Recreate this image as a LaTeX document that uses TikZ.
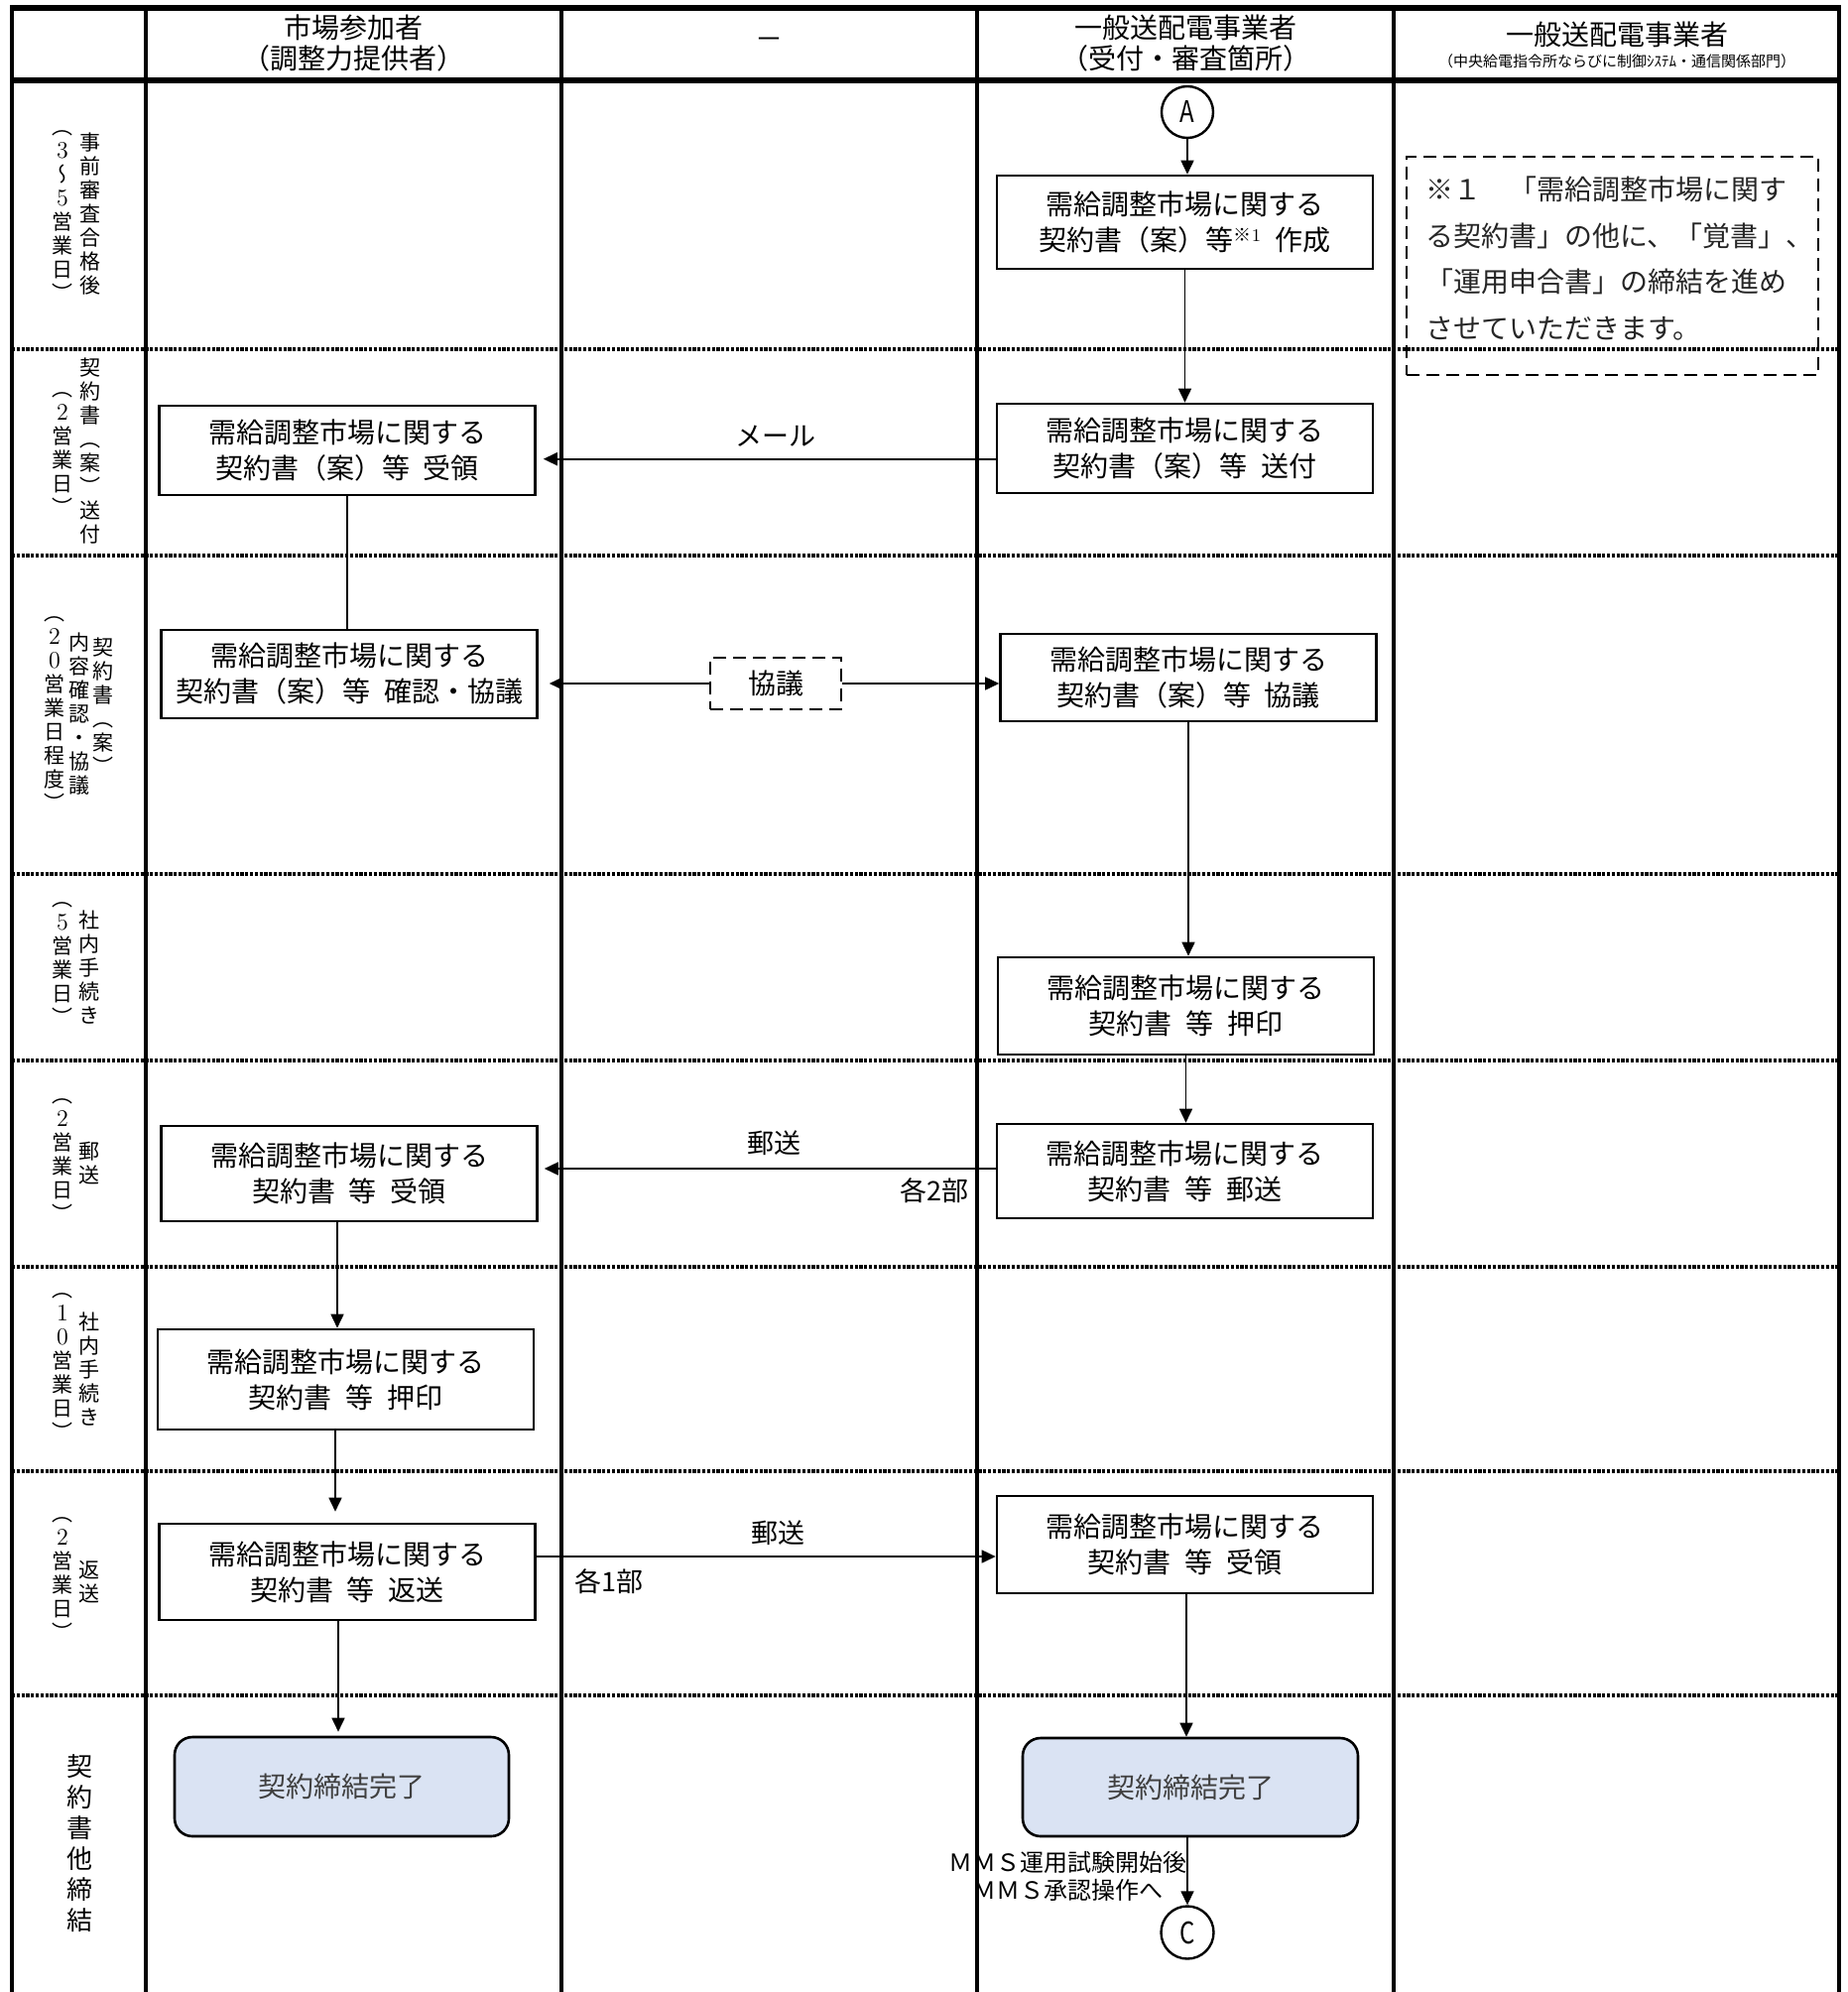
\documentclass[tikz,border=0pt]{standalone}
\usepackage{fontspec}
\usepackage{graphicx}
\usetikzlibrary{arrows.meta}
\newfontfamily\jp{Noto Sans CJK JP}
\newfontfamily\jpv[RawFeature=+vert]{Noto Sans CJK JP}
\definecolor{doneblue}{HTML}{DAE3F3}
\definecolor{donetext}{HTML}{404040}
\newcommand\vdig[1]{{\rmfamily\fontsize{12pt}{12pt}\selectfont #1}}
\begin{document}
\begin{tikzpicture}[x=0.5pt,y=-0.5pt,
  colline/.style={line width=2pt},
  hdrline/.style={line width=2.6pt},
  rowsep/.style={line width=1.7pt, dash pattern=on 1.6pt off 0.8pt},
  proc/.style={draw, line width=1.3pt, fill=white, minimum width=189.5pt, align=center, inner sep=0pt, font=\jp\fontsize{14pt}{18pt}\selectfont},
  done/.style={draw, line width=1.3pt, fill=doneblue, rounded corners=9pt, minimum width=169pt, minimum height=50pt, inner sep=0pt, font=\jp\fontsize{14pt}{18pt}\selectfont, text=donetext},
  conn/.style={draw, circle, line width=1.2pt, minimum size=26pt, inner sep=0pt, font=\jp\fontsize{15pt}{15pt}\selectfont},
  arr/.style={line width=0.8pt, -{Triangle[length=7pt,width=6.5pt]}},
  plain/.style={line width=0.8pt},
  lab/.style={font=\jp\fontsize{13.5pt}{16pt}\selectfont, inner sep=0pt},
  vlab/.style={font=\jpv\fontsize{10.5pt}{12pt}\selectfont, align=center, inner sep=0pt},
  vbig/.style={font=\jpv\fontsize{13pt}{15.5pt}\selectfont, align=center, inner sep=0pt},
  hd/.style={font=\jp\fontsize{14pt}{15.5pt}\selectfont, align=center, inner sep=0pt},
  dashbox/.style={draw, line width=1.3pt, dash pattern=on 6.5pt off 3.5pt},
]
\useasboundingbox (0,0) rectangle (1863,2008);
\fill[white] (0,0) rectangle (1863,2008);

% row separators
\foreach \yy in {352,560,881,1069,1277,1483,1709}
  \draw[rowsep] (12,\yy) -- (1854,\yy);

% grid
\foreach \xx in {12,147,566,985,1405,1854}
  \draw[colline] (\xx,6) -- (\xx,2008);
\draw[hdrline] (10,8) -- (1856,8);
\draw[hdrline] (10,81) -- (1856,81);

% headers
\node[hd] (h2) at (356.5,43.5) {市場参加者\\（調整力提供者）};
\node[hd] (h3) at (775.5,44) {－};
\node[hd] (h4) at (1195,43.5) {一般送配電事業者\\（受付・審査箇所）};
\node[hd] (h5) at (1630,35) {一般送配電事業者};
\node[font=\jp\fontsize{7.5pt}{8pt}\selectfont, inner sep=0pt] (h5s) at (1630,62) {（中央給電指令所ならびに制御ｼｽﾃﾑ・通信関係部門）};

% row labels (vertical)
\node[vlab] (r1a) at (91,216) {事\\前\\審\\査\\合\\格\\後};
\node[vlab] (r1b) at (63,218) {（\\\vdig{3}\\〜\\\vdig{5}\\営\\業\\日\\）};
\node[vlab] (r2a) at (91,455) {契\\約\\書\\（\\案\\）\\送\\付};
\node[vlab] (r2b) at (63,458) {（\\\vdig{2}\\営\\業\\日\\）};
\node[vlab] (r3a) at (104,712) {契\\約\\書\\（\\案\\）};
\node[vlab] (r3b) at (80,720) {内\\容\\確\\認\\・\\協\\議};
\node[vlab] (r3c) at (55,720) {（\\\vdig{2}\\\vdig{0}\\営\\業\\日\\程\\度\\）};
\node[vlab] (r4a) at (90,975) {社\\内\\手\\続\\き};
\node[vlab] (r4b) at (63,972) {（\\\vdig{5}\\営\\業\\日\\）};
\node[vlab] (r5a) at (90,1173) {郵\\送};
\node[vlab] (r5b) at (63,1170) {（\\\vdig{2}\\営\\業\\日\\）};
\node[vlab] (r6a) at (90,1380) {社\\内\\手\\続\\き};
\node[vlab] (r6b) at (63,1378) {（\\\vdig{1}\\\vdig{0}\\営\\業\\日\\）};
\node[vlab] (r7a) at (90,1595) {返\\送};
\node[vlab] (r7b) at (63,1592) {（\\\vdig{2}\\営\\業\\日\\）};
\node[vbig] (r8a) at (80,1858) {契\\約\\書\\他\\締\\結};

% note
\node[dashbox, minimum width=207.5pt, minimum height=110pt, inner sep=0pt] (notebox) at (1625.5,268) {};
\node[font=\jp\fontsize{14pt}{23.25pt}\selectfont, align=left, inner sep=0pt, anchor=west, text=black!85] (note) at (1437,260.5)
  {※１　「需給調整市場に関す\\る契約書」の他に、「覚書」、\\「運用申合書」の締結を進め\\させていただきます。};

% process nodes
\node[conn] (A) at (1197,113) {\scalebox{0.8}[1]{A}};
\node[proc, minimum height=47pt] (R1) at (1194.5,224) {需給調整市場に関する\\契約書（案）等\raisebox{4.5pt}{\fontsize{9pt}{9pt}\selectfont ※{\rmfamily 1}}\enspace 作成};
\node[proc, minimum height=45pt] (R2) at (1194.5,452) {需給調整市場に関する\\契約書（案）等\enspace 送付};
\node[proc, minimum height=45pt] (L1) at (350,454) {需給調整市場に関する\\契約書（案）等\enspace 受領};
\node[proc, minimum height=44.5pt] (L2) at (352,679.5) {需給調整市場に関する\\契約書（案）等\enspace 確認・協議};
\node[dashbox, fill=white, minimum width=66pt, minimum height=26pt, inner sep=0pt, font=\jp\fontsize{14pt}{16pt}\selectfont] (M) at (782,689) {協議};
\node[proc, minimum height=44pt] (R3) at (1198,683) {需給調整市場に関する\\契約書（案）等\enspace 協議};
\node[proc, minimum height=49pt] (R4) at (1195.5,1014) {需給調整市場に関する\\契約書\enspace 等\enspace 押印};
\node[proc, minimum height=47.5pt] (R5) at (1194.5,1180.5) {需給調整市場に関する\\契約書\enspace 等\enspace 郵送};
\node[proc, minimum height=48pt] (L3) at (352,1183) {需給調整市場に関する\\契約書\enspace 等\enspace 受領};
\node[proc, minimum height=50.5pt] (L4) at (348.5,1390.5) {需給調整市場に関する\\契約書\enspace 等\enspace 押印};
\node[proc, minimum height=48.5pt] (L5) at (350,1584.5) {需給調整市場に関する\\契約書\enspace 等\enspace 返送};
\node[proc, minimum height=49pt] (R6) at (1194.5,1557) {需給調整市場に関する\\契約書\enspace 等\enspace 受領};
\node[done, minimum width=168.5pt] (LE) at (344.5,1801) {契約締結完了};
\node[done, minimum height=49.5pt] (RE) at (1200,1801.5) {契約締結完了};
\node[conn, minimum size=26.5pt] (C) at (1197,1948) {\scalebox{0.8}[1]{C}};

% helper coordinates
\coordinate (ymail) at (0,462.7);
\coordinate (yyu1) at (0,1178);
\coordinate (yyu2) at (0,1569);
\coordinate (x340) at (340,0);
\coordinate (x338) at (338,0);
\coordinate (x341) at (341,0);
\coordinate (x1196) at (1196,0);

% connectors
\draw[arr] (A.south) -- (A.south |- R1.north);
\draw[arr] (R1.south) -- (R1.south |- R2.north);
\draw[arr, shorten >=3.5pt] (R2.west |- ymail) -- (L1.east |- ymail);
\draw[plain] (L1.south) -- (L1.south |- L2.north);
\draw[arr, shorten >=5.5pt] (M.west) -- (L2.east |- M.west);
\draw[arr] (M.east) -- (R3.west |- M.east);
\draw[arr] (R3.south) -- (R3.south |- R4.north);
\draw[arr] (R4.south) -- (R4.south |- R5.north);
\draw[arr, shorten >=3pt] (R5.west |- yyu1) -- (L3.east |- yyu1);
\draw[arr] (L3.south -| x340) -- (L4.north -| x340);
\draw[arr, shorten >=5.5pt] (L4.south -| x338) -- (L5.north -| x338);
\draw[arr] (L5.east |- yyu2) -- (R6.west |- yyu2);
\draw[arr, shorten >=2pt] (L5.south -| x341) -- (LE.north -| x341);
\draw[arr] (R6.south -| x1196) -- (RE.north -| x1196);
\draw[arr] (C.north |- RE.south) -- (C.north);

% connector labels
\node[lab] (lmail) at (782,440) {メール};
\node[lab] (lyu1) at (780,1152) {郵送};
\node[lab, anchor=east] (lk2) at (977,1200) {各2部};
\node[lab] (lyu2) at (784,1545) {郵送};
\node[lab, anchor=west] (lk1) at (579,1594) {各1部};
\node[font=\jp\fontsize{12pt}{14pt}\selectfont, align=center, inner sep=0pt] (lmms) at (1076,1891) {ＭＭＳ運用試験開始後\\ＭＭＳ承認操作へ};
\end{tikzpicture}
\end{document}
